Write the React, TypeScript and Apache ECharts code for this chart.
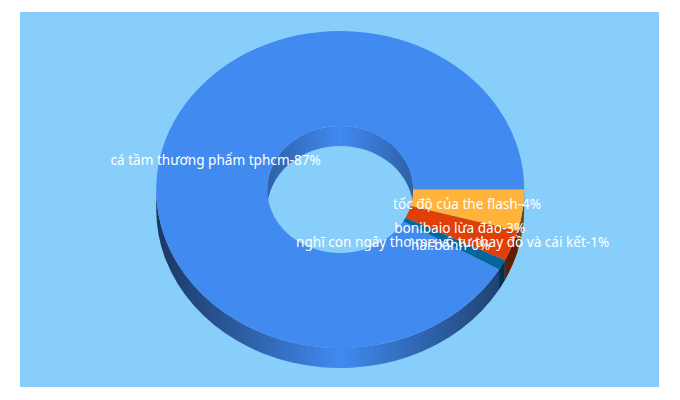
import React, { useEffect, useRef } from "react";
import * as echarts from "echarts";

const categories = [
  "tốc độ của the flash",
  "bonibaio lừa đảo",
  "nghĩ con ngây thơ mẹ vô tư thay đồ và cái kết",
  "hai bánh",
  "cá tầm thương phẩm tphcm",
];
const values = [4, 3, 1, 0, 87];
const colors = ["#ffb33b", "#e04008", "#06659a", "#2f7ed8", "#418af0"];

const CX = 340.2;
const CY = 189.5;
const RX = 184;
const RY = 158.5;
const IRX = 73;
const IRY = 63.5;
const DEPTH = 20;
const total = values.reduce((a, b) => a + b, 0);

function span(i: number): [number, number] {
  let start = 0;
  for (let k = 0; k < i; k++) start += values[k];
  return [(start / total) * 360, ((start + values[i]) / total) * 360];
}
function pt(rx: number, ry: number, deg: number, dy = 0): string {
  const r = (deg * Math.PI) / 180;
  return `${(CX + rx * Math.cos(r)).toFixed(2)} ${(CY + dy + ry * Math.sin(r)).toFixed(2)}`;
}
function shade(hex: string, k: number): string {
  const n = parseInt(hex.slice(1), 16);
  const c = [(n >> 16) & 255, (n >> 8) & 255, n & 255].map((v) => Math.round(v * k));
  return `rgb(${c[0]},${c[1]},${c[2]})`;
}
function grad(hex: string, x0: number, x1: number, dark: number) {
  return {
    type: "linear",
    global: true,
    x: x0,
    y: 0,
    x2: x1,
    y2: 0,
    colorStops: [
      { offset: 0, color: shade(hex, dark) },
      { offset: 0.5, color: shade(hex, 1) },
      { offset: 1, color: shade(hex, dark) },
    ],
  };
}
function wall(rx: number, ry: number, a0: number, a1: number): string {
  const large = a1 - a0 > 180 ? 1 : 0;
  return (
    `M ${pt(rx, ry, a0)} A ${rx} ${ry} 0 ${large} 1 ${pt(rx, ry, a1)} ` +
    `L ${pt(rx, ry, a1, DEPTH)} A ${rx} ${ry} 0 ${large} 0 ${pt(rx, ry, a0, DEPTH)} Z`
  );
}
function top(a0: number, a1: number): string {
  const large = a1 - a0 > 180 ? 1 : 0;
  return (
    `M ${pt(RX, RY, a0)} A ${RX} ${RY} 0 ${large} 1 ${pt(RX, RY, a1)} ` +
    `L ${pt(IRX, IRY, a1)} A ${IRX} ${IRY} 0 ${large} 0 ${pt(IRX, IRY, a0)} Z`
  );
}

const empty = { type: "group", children: [] };

function layer(name: string, z: number, render: (i: number, a0: number, a1: number) => any) {
  return {
    type: "custom",
    name,
    coordinateSystem: "none",
    z,
    silent: true,
    data: values.map((v, i) => [i, v]),
    renderItem: (_p: any, api: any) => {
      const i = api.value(0) as number;
      const [a0, a1] = span(i);
      return render(i, a0, a1);
    },
  };
}

export default function App() {
  const ref = useRef<HTMLDivElement>(null);
  useEffect(() => {
    const chart = echarts.init(ref.current!, undefined, { renderer: "svg" });
    chart.setOption({
      animation: false,
      graphic: [
        { type: "rect", z: 0, shape: { x: 20, y: 12, width: 639, height: 375 }, style: { fill: "#87cefa" } },
      ],
      series: [
        layer("inner", 2, (i, a0, a1) => {
          const s = Math.max(a0, 180);
          const e = Math.min(a1, 360);
          if (e <= s) return empty;
          return {
            type: "path",
            shape: { pathData: wall(IRX, IRY, s, e) },
            style: { fill: grad(colors[i], CX - IRX, CX + IRX, 0.7) },
          };
        }),
        layer("outer", 3, (i, a0, a1) => {
          const s = Math.max(a0, 0);
          const e = Math.min(a1, 180);
          if (e <= s) return empty;
          return {
            type: "path",
            shape: { pathData: wall(RX, RY, s, e) },
            style: { fill: grad(colors[i], CX - RX, CX + RX, 0.4) },
          };
        }),
        layer("top", 4, (i, a0, a1) => {
          if (a1 <= a0) return empty;
          return {
            type: "path",
            shape: { pathData: top(a0, a1) },
            style: { fill: colors[i] },
          };
        }),
        layer("labels", 5, (i, a0, a1) => {
          const mid = (((a0 + a1) / 2) * Math.PI) / 180;
          return {
            type: "text",
            style: {
              x: CX + ((RX + IRX) / 2) * Math.cos(mid) - 0.5,
              y: CY + ((RY + IRY) / 2) * Math.sin(mid) - 1,
              text: `${categories[i]}-${values[i]}%`,
              fill: "#ffffff",
              font: '13.6px "Noto Sans"',
              align: "center",
              verticalAlign: "middle",
            },
          };
        }),
      ],
    });
    return () => chart.dispose();
  }, []);
  return <div ref={ref} style={{ position: "absolute", left: 0, top: 0, width: 680, height: 400 }} />;
}
